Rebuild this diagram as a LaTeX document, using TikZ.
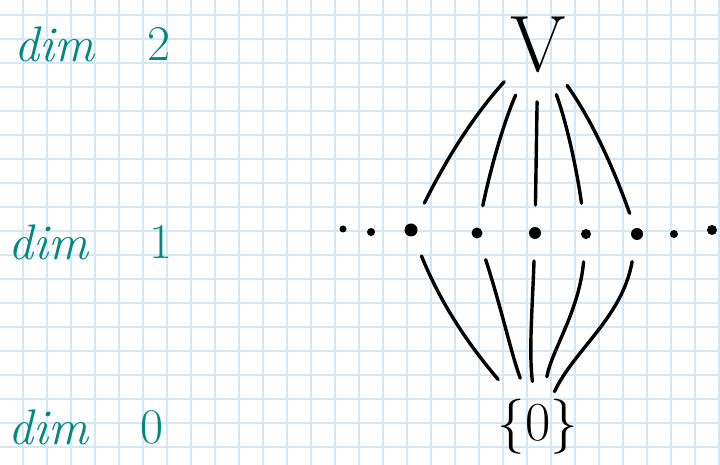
\documentclass[tikz,border=0pt]{standalone}
\usepackage{fontspec}
\usepackage{tikz}
\definecolor{inkteal}{RGB}{0,137,128}
\definecolor{gridblue}{RGB}{212,231,247}
\tikzset{
  dimtext/.style={text=inkteal, inner sep=0pt, anchor=base west, font=\fontsize{50}{60}\selectfont},
  dot/.style={circle, fill=black, inner sep=0pt},
  link/.style={line width=3.4pt, line cap=round}
}

\begin{document}
\begin{tikzpicture}[
  x=1pt, y=1pt
]
\fill[white] (0,0) rectangle (720,465);
\useasboundingbox (0,0) rectangle (720,465);
\draw[gridblue, line width=1.6pt, step=24, shift={(23,18)}] (-23,-18) grid (697,447);

% dimension labels
\node[dimtext] (dim2) at (14,403) {\itshape dim};
\node[dimtext] (num2) at (147,404) {2};
\node[dimtext] (dim1) at (8,205) {\itshape dim};
\node[dimtext] (num1) at (149,206) {1};
\node[dimtext] (dim0) at (8,20) {\itshape dim};
\node[dimtext] (num0) at (140,21) {0};

% the space, the lines, the origin
\node[font=\fontsize{80}{90}\selectfont, inner sep=0pt, anchor=south] (V) at (538,392) {V};
\node[font=\fontsize{55}{60}\selectfont] (zero) at (538,38) {\{0\}};
\foreach \x/\y/\r [count=\k] in {343/236/3.5, 371/233/4, 411/235/6.5, 477/232/5.5,
    535/232/6, 586/231/5, 637/231/6, 674/231/4, 712/235/5}
  \node[dot, minimum size={2*\r pt}] (d\k) at (\x,\y) {};

\foreach \i/\b/\s/\t in {3/8/50/30, 4/6/55/28, 5/0/57/28, 6/-6/53/31, 7/-8/50/22}
  \draw[link, shorten <=\s pt, shorten >=\t pt] (V.center) to[bend right=\b] (d\i.center);
\foreach \i/\o/\n/\s in {3/-68/130/62, 4/-72/110/52, 5/-92/97/46, 6/-95/80/51, 7/-100/65/39}
  \draw[link, shorten <=28pt, shorten >=\s pt] (d\i.center) to[out=\o, in=\n] (zero.center);
\end{tikzpicture}
\end{document}
